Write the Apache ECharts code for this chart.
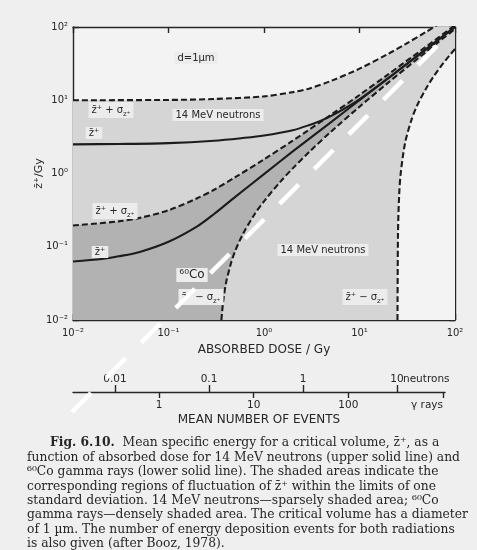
<!DOCTYPE html>
<html>
<head>
<meta charset="utf-8">
<script src="https://cdn.jsdelivr.net/npm/echarts@6/dist/echarts.min.js"></script>
<style>
  html, body { margin: 0; padding: 0; background: #efefef; }
  #chart { width: 477px; height: 550px; }
</style>
</head>
<body>
<div id="chart"></div>
<script>
// Mean specific energy z+ (Gy) against absorbed dose (Gy), critical volume d = 1 µm.
// 14 MeV neutrons
const neutronMeanDose = [0.01, 0.03, 0.1, 0.3, 0.6, 1, 2, 3, 4, 6, 10, 20, 50, 100];
const neutronMean     = [2.5, 2.53, 2.6, 2.8, 3.05, 3.3, 3.9, 4.6, 5.3, 6.9, 10.3, 20, 50, 100];
const neutronUpperDose = [0.01, 0.1, 0.3, 1, 2, 3, 5, 10, 20, 30, 50, 70, 100];
const neutronUpper     = [10, 10.1, 10.4, 11.3, 12.9, 14.5, 18.3, 27, 43, 58, 86, 113, 150];
const neutronLowerDose = [25, 25.3, 26, 27, 30, 35, 40, 50, 60, 70, 80, 90, 100];
const neutronLower     = [0.01, 0.15, 0.5, 1.0, 2.6, 5.4, 8.4, 14.6, 21.3, 28.2, 35.3, 42.6, 50];
// 60Co gamma rays
const cobaltMeanDose = [0.01, 0.02, 0.03, 0.05, 0.1, 0.2, 0.3, 0.5, 1, 2, 5, 10, 100];
const cobaltMean     = [0.063, 0.068, 0.074, 0.085, 0.117, 0.19, 0.28, 0.48, 0.98, 2, 5, 10, 100];
const cobaltUpperDose = [0.01, 0.03, 0.05, 0.1, 0.2, 0.3, 0.5, 1, 2, 5, 10, 20, 50, 100];
const cobaltUpper     = [0.195, 0.222, 0.248, 0.315, 0.46, 0.6, 0.89, 1.56, 2.8, 6.3, 11.8, 22.6, 54.1, 105.8];
const cobaltLowerDose = [0.358, 0.37, 0.38, 0.4, 0.45, 0.5, 0.6, 0.8, 1, 1.5, 2, 3, 5, 10, 20, 50, 100];
const cobaltLower     = [0.01, 0.016, 0.021, 0.032, 0.059, 0.088, 0.148, 0.28, 0.417, 0.786, 1.175, 1.99, 3.7, 8.16, 17.4, 45.9, 94.2];
// white dashed stroke across the figure (dose, z+)
const overlayDose = [0.00976, 69.7];
const overlayZ    = [0.000555, 60.5];

// tick labels
const doseTickLabels = ['10\u207B\u00B2', '10\u207B\u00B9', '10\u2070', '10\u00B9', '10\u00B2'];
const neutronEventLabels = ['0.01', '0.1', '1', '10'];
const gammaEventLabels = ['1', '10', '100', '\u03B3 rays'];

const SANS = "'DejaVu Sans', sans-serif";
const SERIF = "'DejaVu Serif', serif";
const INK = '#262626';
const PLOT_BG = '#f3f3f3';
const NEUTRON_FILL = '#d5d5d5';
const COBALT_FILL = '#b2b2b2';

const pairs = (xs, ys) => xs.map((x, i) => [x, ys[i]]);
const decadeIndex = v => Math.round(Math.log10(v));

function fill(xs, ys, color) {
  return {
    type: 'line', data: pairs(xs, ys), smooth: 0.3, symbol: 'none', silent: true,
    lineStyle: { width: 0 }, areaStyle: { color: color, opacity: 1, origin: 'start' }, z: 2
  };
}
function stroke(xs, ys, dashed) {
  return {
    type: 'line', data: pairs(xs, ys), smooth: 0.3, symbol: 'none', silent: true,
    lineStyle: { color: '#1c1c1c', width: 2.1, type: dashed ? [6, 3] : 'solid' }, z: 3
  };
}

const frameLine = { show: true, lineStyle: { color: INK, width: 1.4 } };
const innerTick = { show: true, inside: true, length: 6, lineStyle: { color: INK, width: 1.4 } };

function label(x, y, text, size) {
  return {
    type: 'text', x: x, y: y, z: 50,
    style: {
      text: text, fill: INK, fontFamily: SANS, fontSize: size || 10,
      align: 'center', verticalAlign: 'middle',
      backgroundColor: '#ececec', padding: [1, 3]
    }
  };
}
function zLabel(x, y, sign) {
  return {
    type: 'text', x: x, y: y, z: 50,
    style: {
      text: '{m|z\u0304\u207A ' + sign + ' \u03C3}{s|z\u207A}',
      fill: INK, align: 'center', verticalAlign: 'middle',
      backgroundColor: '#ececec', padding: [0, 3],
      rich: {
        m: { fontFamily: SANS, fontSize: 10, lineHeight: 16, verticalAlign: 'middle', fill: INK },
        s: { fontFamily: SANS, fontSize: 7, lineHeight: 8, verticalAlign: 'bottom', fill: INK }
      }
    }
  };
}

const captionFirst = '{b|Fig. 6.10.}  Mean specific energy for a critical volume, z\u0304\u207A, as a';
const captionRest = [
  'function of absorbed dose for 14 MeV neutrons (upper solid line) and',
  '\u2076\u2070Co gamma rays (lower solid line). The shaded areas indicate the',
  'corresponding regions of fluctuation of z\u0304\u207A within the limits of one',
  'standard deviation. 14 MeV neutrons\u2014sparsely shaded area; \u2076\u2070Co',
  'gamma rays\u2014densely shaded area. The critical volume has a diameter',
  'of 1 \u00B5m. The number of energy deposition events for both radiations',
  'is also given (after Booz, 1978).'
];
const CAPTION_SIZE = 12.3;

const chart = echarts.init(document.getElementById('chart'), null, { renderer: 'canvas' });
chart.setOption({
  animation: false,
  backgroundColor: '#efefef',
  grid: [
    { left: 73, top: 27, width: 382, height: 293, show: true, backgroundColor: PLOT_BG, borderWidth: 0 },
    { left: 73, top: 392, width: 372, height: 0 },
    { left: 115, top: 392, width: 282, height: 0 },
    { left: 159, top: 392, width: 284, height: 0 }
  ],
  xAxis: [
    {
      type: 'log', logBase: 10, min: 0.01, max: 100, gridIndex: 0, position: 'bottom',
      axisLine: Object.assign({ onZero: false }, frameLine), axisTick: innerTick, splitLine: { show: false },
      axisLabel: { margin: 8, color: INK, fontFamily: SANS, fontSize: 10, formatter: v => doseTickLabels[decadeIndex(v) + 2] },
      name: 'ABSORBED DOSE / Gy', nameLocation: 'middle', nameGap: 24, nameMoveOverlap: false,
      nameTextStyle: { color: INK, fontFamily: SANS, fontSize: 12 }
    },
    {
      type: 'log', logBase: 10, min: 0.01, max: 100, gridIndex: 0, position: 'top',
      axisLine: Object.assign({ onZero: false }, frameLine), axisTick: innerTick,
      axisLabel: { show: false }, splitLine: { show: false }
    },
    {
      type: 'value', min: 0, max: 1, gridIndex: 1, position: 'bottom',
      axisLine: { show: true, onZero: false, lineStyle: { color: INK, width: 1.4 } },
      axisTick: { show: false }, axisLabel: { show: false }, splitLine: { show: false },
      name: 'MEAN NUMBER OF EVENTS', nameLocation: 'middle', nameGap: 22, nameMoveOverlap: false,
      nameTextStyle: { color: INK, fontFamily: SANS, fontSize: 12 }
    },
    {
      type: 'log', logBase: 10, min: 0.01, max: 10, gridIndex: 2, position: 'top',
      axisLine: { show: false, onZero: false },
      axisTick: { show: true, inside: false, length: 7, lineStyle: { color: INK, width: 1.4 } },
      axisLabel: { margin: 7, color: INK, fontFamily: SANS, fontSize: 10.5, formatter: v => neutronEventLabels[decadeIndex(v) + 2] },
      splitLine: { show: false },
      name: 'neutrons', nameLocation: 'end', nameGap: 6, nameMoveOverlap: false,
      nameTextStyle: { color: INK, fontFamily: SANS, fontSize: 10.5, verticalAlign: 'bottom', padding: [0, 0, 7, 0] }
    },
    {
      type: 'log', logBase: 10, min: 1, max: 1000, gridIndex: 3, position: 'bottom',
      axisLine: { show: false, onZero: false },
      axisTick: { show: true, inside: false, length: 6, lineStyle: { color: INK, width: 1.4 } },
      axisLabel: { margin: 8, color: INK, fontFamily: SANS, fontSize: 10.5, alignMaxLabel: 'right',
        formatter: v => gammaEventLabels[decadeIndex(v)] },
      splitLine: { show: false }
    }
  ],
  yAxis: [
    {
      type: 'log', logBase: 10, min: 0.01, max: 100, gridIndex: 0, position: 'left',
      axisLine: Object.assign({ onZero: false }, frameLine), axisTick: innerTick, splitLine: { show: false },
      axisLabel: { margin: 5, color: INK, fontFamily: SANS, fontSize: 10, formatter: v => doseTickLabels[decadeIndex(v) + 2] },
      name: 'z\u0304\u207A/Gy', nameLocation: 'middle', nameGap: 28, nameRotate: 90, nameMoveOverlap: false,
      nameTextStyle: { color: INK, fontFamily: SANS, fontSize: 11 }
    },
    {
      type: 'log', logBase: 10, min: 0.01, max: 100, gridIndex: 0, position: 'right',
      axisLine: Object.assign({ onZero: false }, frameLine), axisTick: innerTick,
      axisLabel: { show: false }, splitLine: { show: false }
    },
    { type: 'value', gridIndex: 1, show: false },
    { type: 'value', gridIndex: 2, show: false },
    { type: 'value', gridIndex: 3, show: false }
  ],
  series: [
    // shaded fluctuation bands, painted in layers
    fill(neutronUpperDose, neutronUpper, NEUTRON_FILL),
    fill(cobaltUpperDose, cobaltUpper, COBALT_FILL),
    fill(cobaltLowerDose, cobaltLower, NEUTRON_FILL),
    fill(neutronLowerDose, neutronLower, PLOT_BG),
    // limits and mean values
    stroke(neutronUpperDose, neutronUpper, true),
    stroke(neutronMeanDose, neutronMean, false),
    stroke(neutronLowerDose, neutronLower, true),
    stroke(cobaltUpperDose, cobaltUpper, true),
    stroke(cobaltMeanDose, cobaltMean, false),
    stroke(cobaltLowerDose, cobaltLower, true),
    {
      type: 'line', data: pairs(overlayDose, overlayZ), clip: false, symbol: 'none', silent: true,
      lineStyle: { color: '#ffffff', width: 4.5, type: [27, 22], cap: 'butt' }, z: 60
    }
  ],
  graphic: [
    label(196, 58, 'd=1\u00B5m', 10),
    zLabel(111, 110, '+'),
    label(218, 115, '14 MeV neutrons', 10),
    label(94, 133, 'z\u0304\u207A', 10),
    zLabel(115, 211, '+'),
    label(100, 252, 'z\u0304\u207A', 10),
    label(192, 275, '\u2076\u2070Co', 12),
    zLabel(201, 297, '\u2212'),
    label(323, 250, '14 MeV neutrons', 10),
    zLabel(365, 297, '\u2212'),
    {
      type: 'text', x: 50, y: 436, z: 50,
      style: {
        text: captionFirst, fill: INK, fontFamily: SERIF, fontSize: CAPTION_SIZE, lineHeight: 14.4,
        rich: {
          b: { fontFamily: SERIF, fontSize: CAPTION_SIZE, fontWeight: 'bold', lineHeight: 14.4, fill: INK }
        }
      }
    },
    {
      type: 'text', x: 27, y: 450.5, z: 50,
      style: { text: captionRest.join('\n'), fill: INK, fontFamily: SERIF, fontSize: CAPTION_SIZE, lineHeight: 14.4 }
    }
  ]
});
</script>
</body>
</html>
